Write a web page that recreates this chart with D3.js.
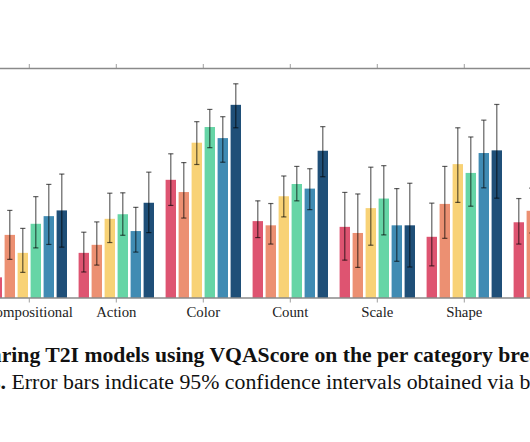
<!DOCTYPE html>
<html>
<head>
<meta charset="utf-8">
<script src="https://cdn.jsdelivr.net/npm/d3@7"></script>
<style>
  html, body { margin: 0; padding: 0; background: #fff; overflow: hidden; }
  svg { display: block; }
</style>
</head>
<body>
<svg id="chart" width="530" height="442"></svg>
<script>
// ---- data ----
const categories = ["Compositional", "Action", "Color", "Count", "Scale", "Shape", "Spatial"];
const models = ["SD v2.1", "SD-XL Turbo", "SD-XL", "DeepFloyd-IF", "Midjourney v6", "DALL-E 3"];
const colors = ["#de5471", "#ec9072", "#f8d276", "#66d5a6", "#408bb3", "#1f4f78"];
// mean VQAScore per model (series) per category
const means = [
  [0.454, 0.518, 0.709, 0.601, 0.586, 0.560, 0.598],
  [0.565, 0.539, 0.677, 0.590, 0.570, 0.646, 0.628],
  [0.518, 0.607, 0.806, 0.666, 0.635, 0.750, 0.700],
  [0.594, 0.619, 0.847, 0.698, 0.660, 0.727, 0.690],
  [0.614, 0.575, 0.818, 0.686, 0.590, 0.779, 0.720],
  [0.629, 0.649, 0.905, 0.785, 0.590, 0.786, 0.740]
];
const lower = [
  [0.415, 0.468, 0.642, 0.558, 0.499, 0.484, 0.541],
  [0.501, 0.486, 0.609, 0.541, 0.480, 0.556, 0.570],
  [0.467, 0.545, 0.749, 0.612, 0.538, 0.650, 0.640],
  [0.531, 0.564, 0.793, 0.654, 0.565, 0.640, 0.630],
  [0.540, 0.520, 0.755, 0.631, 0.496, 0.688, 0.650],
  [0.533, 0.571, 0.845, 0.717, 0.481, 0.661, 0.670]
];
const upper = [
  [0.495, 0.572, 0.777, 0.654, 0.676, 0.648, 0.660],
  [0.629, 0.599, 0.754, 0.647, 0.672, 0.744, 0.687],
  [0.582, 0.674, 0.861, 0.719, 0.742, 0.845, 0.760],
  [0.665, 0.675, 0.893, 0.744, 0.746, 0.821, 0.750],
  [0.697, 0.637, 0.874, 0.738, 0.686, 0.865, 0.790],
  [0.724, 0.729, 0.960, 0.848, 0.700, 0.906, 0.810]
];
const yDomain = [0.4, 1.0];
const captionTitle = "Figure 5: Comparing T2I models using VQAScore on the per category breakdown of skills";
const captionBoldEnd = "skills.";
const captionBody = " Error bars indicate 95% confidence intervals obtained via bootstrapping.";

// ---- layout ----
const W = 530, H = 442;
const plotTop = 68.5, plotBottom = 298;
const step = 87;
const firstCenter = 29.3;

const svg = d3.select("#chart");
svg.append("rect").attr("width", W).attr("height", H).attr("fill", "#fff");

const x0 = d3.scaleBand()
  .domain(categories)
  .range([firstCenter - step / 2, firstCenter - step / 2 + step * categories.length])
  .paddingInner(0).paddingOuter(0);

const x1 = d3.scaleBand()
  .domain(models)
  .range([-39, 39])
  .paddingInner(0.2).paddingOuter(0.1);

const y = d3.scaleLinear().domain(yDomain).range([plotBottom, plotTop]);

const cx = c => x0(c) + x0.bandwidth() / 2;

const rows = [];
models.forEach((m, si) => {
  categories.forEach((c, ci) => {
    rows.push({ m, si, c, v: means[si][ci], lo: lower[si][ci], hi: upper[si][ci] });
  });
});

// bars
svg.append("g").selectAll("rect").data(rows).join("rect")
  .attr("x", d => cx(d.c) + x1(d.m))
  .attr("width", x1.bandwidth())
  .attr("y", d => y(d.v))
  .attr("height", d => plotBottom - y(d.v))
  .attr("fill", d => colors[d.si]);

// error bars
const eg = svg.append("g").attr("stroke", "#000").attr("stroke-opacity", 0.62).attr("stroke-width", 1.2);
rows.forEach(d => {
  const xc = cx(d.c) + x1(d.m) + x1.bandwidth() / 2;
  eg.append("line").attr("x1", xc).attr("x2", xc).attr("y1", y(d.hi)).attr("y2", y(d.lo));
  eg.append("line").attr("x1", xc - 2.6).attr("x2", xc + 2.6).attr("y1", y(d.hi)).attr("y2", y(d.hi));
  eg.append("line").attr("x1", xc - 2.6).attr("x2", xc + 2.6).attr("y1", y(d.lo)).attr("y2", y(d.lo));
});

// axes (bottom and mirrored top)
const xb = svg.append("g").attr("transform", `translate(0,${plotBottom})`)
  .call(d3.axisBottom(x0).tickSize(4.5).tickPadding(4));
const xt = svg.append("g").attr("transform", `translate(0,${plotTop})`)
  .call(d3.axisTop(x0).tickSize(4.5).tickFormat(""));
[xb, xt].forEach(g => {
  g.select(".domain").remove();
  g.selectAll(".tick line").attr("stroke", "#888").attr("stroke-width", 0.8);
});
svg.append("line").attr("x1", 0).attr("x2", W).attr("y1", plotBottom).attr("y2", plotBottom)
  .attr("stroke", "#8a8a8a").attr("stroke-width", 1.4);
svg.append("line").attr("x1", 0).attr("x2", W).attr("y1", plotTop).attr("y2", plotTop)
  .attr("stroke", "#8a8a8a").attr("stroke-width", 1.4);
xb.selectAll(".tick text")
  .attr("font-family", "'Liberation Serif', serif")
  .attr("font-size", 14.8)
  .attr("fill", "#222")
  .attr("dy", "0.71em");

// caption (fit size so visible span matches the reference crop)
const cap1 = svg.append("text")
  .attr("y", 361.5)
  .attr("font-family", "'Liberation Serif', serif")
  .attr("font-weight", "bold")
  .attr("font-size", 20)
  .attr("fill", "#111")
  .text(captionTitle);
{
  const a = captionTitle.indexOf("ring T2I");
  const b = captionTitle.indexOf("breakdown") + 3;
  const w = cap1.node().getSubStringLength(a, b - a);
  const fs = 20 * 528 / w;
  cap1.attr("font-size", fs);
  cap1.attr("x", 1.7 - cap1.node().getSubStringLength(0, a));
}

const cap2 = svg.append("text")
  .attr("y", 388.5)
  .attr("font-family", "'Liberation Serif', serif")
  .attr("font-size", 20)
  .attr("fill", "#111");
cap2.append("tspan").attr("font-weight", "bold").text(captionBoldEnd);
cap2.append("tspan").text(captionBody);
{
  const full = captionBoldEnd + captionBody;
  const a = captionBoldEnd.length - 1;
  const b = full.indexOf("bootstrapping") + 1;
  const w = cap2.node().getSubStringLength(a, b - a);
  const fs = 20 * 530 / w;
  cap2.attr("font-size", fs);
  cap2.attr("x", 0.6 - cap2.node().getSubStringLength(0, a));
}
</script>
</body>
</html>
